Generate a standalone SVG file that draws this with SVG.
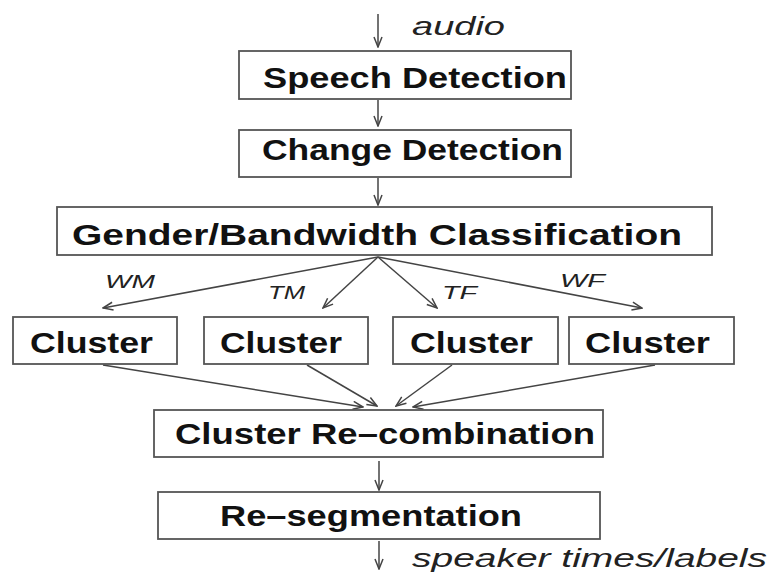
<svg xmlns="http://www.w3.org/2000/svg" width="770" height="573" viewBox="0 0 770 573">
  <defs>
    <marker id="arrow" viewBox="0 0 12 10" refX="11" refY="5" markerWidth="12" markerHeight="10" markerUnits="userSpaceOnUse" orient="auto">
      <path d="M1,1 L11,5 L1,9" fill="none" stroke="#444" stroke-width="1.5"/>
    </marker>
  </defs>
  <style>
    .box { fill: #fff; stroke: #555; stroke-width: 1.8; }
    .lbl { font-family: "Liberation Sans", Arial, sans-serif; font-weight: bold; font-size: 29px; fill: #111; }
    .io { font-family: "Liberation Sans", Arial, sans-serif; font-style: italic; font-size: 26px; fill: #222; }
    .edge { font-family: "Liberation Sans", Arial, sans-serif; font-style: italic; font-size: 18px; fill: #222; }
    .conn { stroke: #444; stroke-width: 1.5; fill: none; marker-end: url(#arrow); }
  </style>
  <rect width="770" height="573" fill="#fff"/>

  <g id="connectors">
    <line class="conn" x1="378" y1="14" x2="378" y2="47"/>
    <line class="conn" x1="378" y1="100" x2="378" y2="126"/>
    <line class="conn" x1="378" y1="178" x2="378" y2="205"/>
    <line class="conn" x1="378" y1="257" x2="103" y2="308"/>
    <line class="conn" x1="378" y1="257" x2="323" y2="308"/>
    <line class="conn" x1="378" y1="257" x2="437" y2="308"/>
    <line class="conn" x1="378" y1="257" x2="642" y2="308"/>
    <line class="conn" x1="103" y1="365" x2="363" y2="407"/>
    <line class="conn" x1="307" y1="365" x2="377" y2="406"/>
    <line class="conn" x1="452" y1="365" x2="396" y2="406"/>
    <line class="conn" x1="655" y1="365" x2="413" y2="407"/>
    <line class="conn" x1="379" y1="461" x2="379" y2="490"/>
    <line class="conn" x1="379" y1="541" x2="379" y2="569"/>
    <text class="io" x="412" y="35" textLength="93" lengthAdjust="spacingAndGlyphs">audio</text>
    <text class="edge" x="105" y="288" textLength="50" lengthAdjust="spacingAndGlyphs">WM</text>
    <text class="edge" x="268" y="299" textLength="37" lengthAdjust="spacingAndGlyphs">TM</text>
    <text class="edge" x="442" y="299" textLength="35" lengthAdjust="spacingAndGlyphs">TF</text>
    <text class="edge" x="560" y="287" textLength="45" lengthAdjust="spacingAndGlyphs">WF</text>
    <text class="io" x="412" y="567" textLength="355" lengthAdjust="spacingAndGlyphs">speaker times/labels</text>
  </g>

  <g id="speech-detection">
    <rect class="box" x="239" y="51" width="332" height="48"/>
    <text class="lbl" x="263" y="88" textLength="304" lengthAdjust="spacingAndGlyphs">Speech Detection</text>
  </g>
  <g id="change-detection">
    <rect class="box" x="239" y="130" width="332" height="47"/>
    <text class="lbl" x="262" y="160" textLength="301" lengthAdjust="spacingAndGlyphs">Change Detection</text>
  </g>
  <g id="gender-bandwidth">
    <rect class="box" x="57" y="207" width="655" height="48"/>
    <text class="lbl" x="72" y="245" textLength="610" lengthAdjust="spacingAndGlyphs">Gender/Bandwidth Classification</text>
  </g>
  <g id="cluster-wm">
    <rect class="box" x="13" y="317" width="164" height="47"/>
    <text class="lbl" x="30" y="353" textLength="123" lengthAdjust="spacingAndGlyphs">Cluster</text>
  </g>
  <g id="cluster-tm">
    <rect class="box" x="204" y="317" width="164" height="47"/>
    <text class="lbl" x="220" y="353" textLength="122" lengthAdjust="spacingAndGlyphs">Cluster</text>
  </g>
  <g id="cluster-tf">
    <rect class="box" x="393" y="317" width="165" height="47"/>
    <text class="lbl" x="410" y="353" textLength="123" lengthAdjust="spacingAndGlyphs">Cluster</text>
  </g>
  <g id="cluster-wf">
    <rect class="box" x="569" y="317" width="165" height="47"/>
    <text class="lbl" x="585" y="353" textLength="125" lengthAdjust="spacingAndGlyphs">Cluster</text>
  </g>
  <g id="cluster-recombination">
    <rect class="box" x="154" y="410" width="449" height="47"/>
    <text class="lbl" x="175" y="444" textLength="420" lengthAdjust="spacingAndGlyphs">Cluster Re–combination</text>
  </g>
  <g id="re-segmentation">
    <rect class="box" x="158" y="492" width="442" height="47"/>
    <text class="lbl" x="220" y="526" textLength="302" lengthAdjust="spacingAndGlyphs">Re–segmentation</text>
  </g>
</svg>
